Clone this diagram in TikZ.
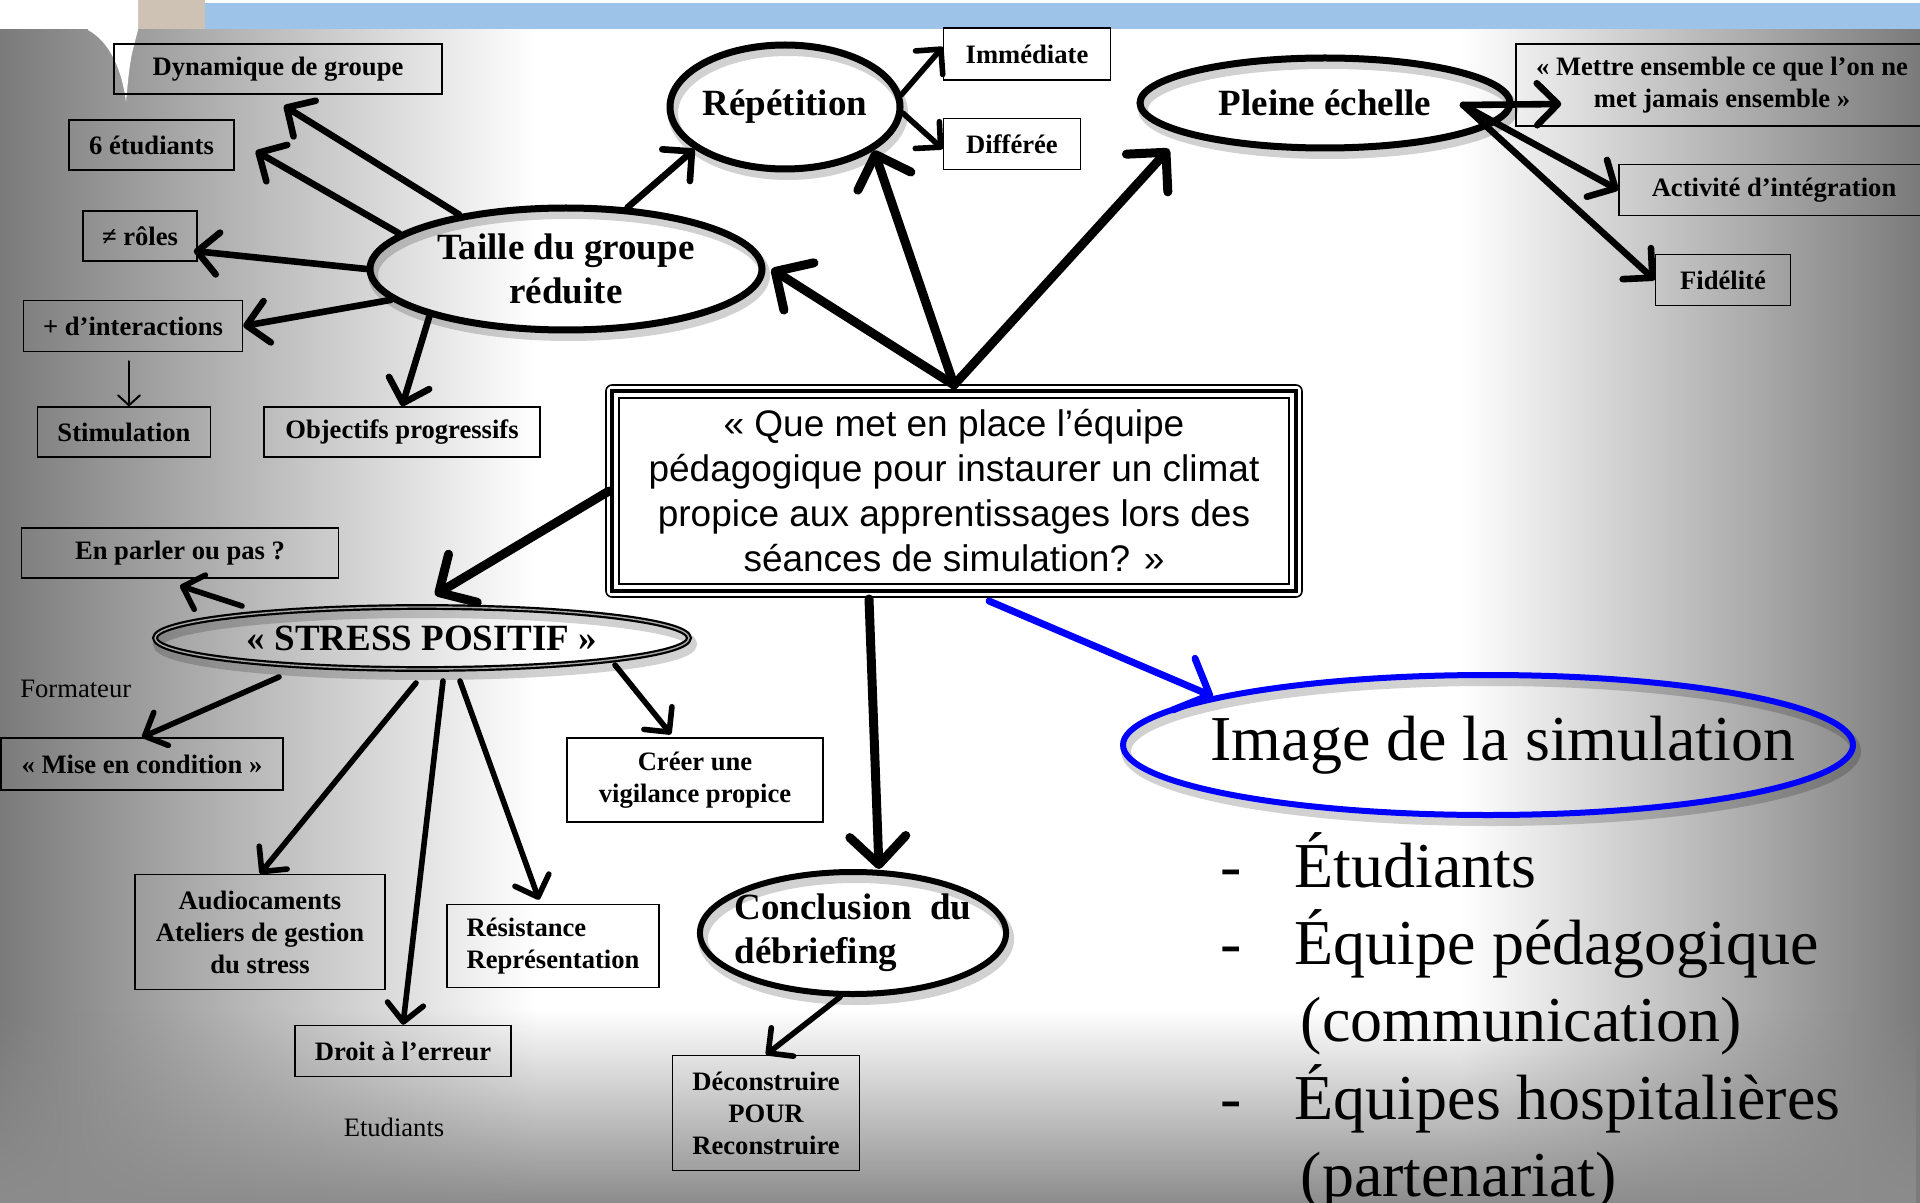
\documentclass[tikz,border=0pt]{standalone}
\usepackage{fontspec}
\setmainfont{Liberation Serif}
\newfontfamily\qfont{Liberation Sans}
\usepackage{tikz}
\usetikzlibrary{arrows.meta, calc, shapes.geometric, fadings, shadows}

\definecolor{headblue}{RGB}{157,196,232}
\definecolor{curlbeige}{RGB}{206,194,180}
\pgfdeclarehorizontalshading{slide}{100bp}{color(0bp)=(black!52); color(25bp)=(black!52); color(39bp)=(white); color(63bp)=(white); color(75bp)=(black!52); color(100bp)=(black!52)}
\tikzfading[name=fade bottom, top color=transparent!100, bottom color=transparent!0]

\tikzset{
	box/.style={draw, line width=0.75pt, inner sep=0pt, align=center, font=\bfseries\fontsize{13.3}{16}\selectfont},
	bubble/.style={draw, ellipse, line width=3.5pt, inner sep=0pt, align=center, font=\bfseries\fontsize{18.5}{22}\selectfont,
		drop shadow={fill=none, draw=black, line width=5pt, opacity=0.18, shadow xshift=1.5pt, shadow yshift=-3pt}},
	arrbig/.style={line width=4.5pt, -{Straight Barb[round, length=14pt, width=28pt]}},
	arrmid/.style={line width=3.3pt, -{Straight Barb[round, length=10.5pt, width=21pt]}},
	arrsmall/.style={line width=2.8pt, -{Straight Barb[round, length=9pt, width=18pt]}},
	arrthin/.style={line width=1pt, -{Straight Barb[round, length=5pt, width=11pt]}},
	freetext/.style={inner sep=0pt, font=\fontsize{13.3}{16}\selectfont}
}

\begin{document}
\begin{tikzpicture}[x=0.5pt, y=-0.5pt, line cap=round]
	\useasboundingbox (0,0) rectangle (1920,1203);

	% slide background
	\fill[white] (0,0) rectangle (1920,30);
	\fill[curlbeige] (122,0) rectangle (205,31);
	\fill[headblue] (205,3) rectangle (1920,31);
	\shade[shading=slide] (0,30) rectangle (1920,1203);
	\fill[black!45, path fading=fade bottom] (0,1010) rectangle (1920,1203);
	\fill[white] (88,0) -- (138,0) -- (138,30) .. controls (130,60) .. (126,102) .. controls (122,70) and (110,42) .. (88,30) -- cycle;

	% question
	\node[draw, fill=white, line width=1pt, inner sep=0pt, align=center, minimum width=335pt, minimum height=93pt,
		font=\qfont\fontsize{18.5}{22.5}\selectfont] (q) at (954,491)
		{« Que met en place l’équipe\\pédagogique pour instaurer un climat\\propice aux apprentissages lors des\\séances de simulation? »};
	\draw[line width=2pt] ([shift={(-3pt,3pt)}]q.north west) rectangle ([shift={(3pt,-3pt)}]q.south east);
	\draw[line width=0.8pt, rounded corners=3pt] ([shift={(-6pt,6pt)}]q.north west) rectangle ([shift={(6pt,-6pt)}]q.south east);
	\coordinate (qtop) at ([yshift=6pt]q.north);

	% ellipses
	\node[bubble, minimum width=196pt, minimum height=61pt] (taille) at (566,269) {Taille du groupe\\réduite};
	\node[bubble, inner sep=-2pt, minimum width=115pt, minimum height=62pt] (rep) at (785,107) {Répétition};
	\node[bubble, minimum width=185pt, minimum height=45pt] (pleine) at (1325,103) {Pleine échelle};
	\node[bubble, line width=1.1pt, double=black!35, double distance=0.7pt, minimum width=267pt, minimum height=31pt] (stress) at (422,638) {«~STRESS POSITIF~»};
	\node[bubble, line width=3pt, inner xsep=-5pt, align=left, minimum width=153pt, minimum height=61pt] (concl) at (853,933) {Conclusion \ du\\débriefing};
	\node[bubble, draw=blue, line width=3pt, inner xsep=-26pt, font=\fontsize{32}{38}\selectfont, minimum width=365pt, minimum height=70pt] (img) at (1488,745) {\hspace*{15pt}Image de la simulation};

	% boxes
	\node[box, minimum width=164pt, minimum height=25pt] (dyn) at (278,69) {Dynamique de groupe};
	\node[box, minimum width=82.5pt, minimum height=25pt] (six) at (151.5,145) {6 étudiants};
	\node[box, minimum width=57pt, minimum height=25pt] (roles) at (140,236) {≠ rôles};
	\node[box, minimum width=109.5pt, minimum height=25.5pt] (inter) at (133,326) {+ d’interactions};
	\node[box, minimum width=86.5pt, minimum height=25pt] (stim) at (124,432) {Stimulation};
	\node[box, minimum width=138pt, minimum height=25pt] (obj) at (402,432) {Objectifs progressifs};
	\node[box, minimum width=83.5pt, minimum height=26pt] (imm) at (1027,54) {Immédiate};
	\node[box, minimum width=68.5pt, minimum height=25.5pt] (diff) at (1012,144) {Différée};
	\node[box, minimum width=206pt, minimum height=41pt] (mettre) at (1722,85) {«~Mettre ensemble ce que l’on ne\\met jamais ensemble~»};
	\node[box, minimum width=155pt, minimum height=25.5pt] (activ) at (1774,190) {Activité d’intégration};
	\node[box, minimum width=67.5pt, minimum height=25.5pt] (fid) at (1723,280) {Fidélité};
	\node[box, minimum width=158.5pt, minimum height=25pt] (parler) at (180,553) {En parler ou pas ?};
	\node[box, minimum width=141pt, minimum height=26pt] (mise) at (142,764) {«~Mise en condition~»};
	\node[box, minimum width=128pt, minimum height=42pt] (creer) at (695,780) {Créer une\\vigilance propice};
	\node[box, minimum width=125pt, minimum height=57.5pt] (audio) at (260,932) {Audiocaments\\Ateliers de gestion\\du stress};
	\node[box, align=left, minimum width=106pt, minimum height=41.5pt] (resist) at (553,946) {Résistance\\Représentation};
	\node[box, minimum width=108pt, minimum height=25.5pt] (droit) at (403,1051) {Droit à l’erreur};
	\node[box, minimum width=93.5pt, minimum height=57.5pt] (decon) at (766,1113) {Déconstruire\\POUR\\Reconstruire};

	\node[freetext, anchor=west] (form) at (20,689) {Formateur};
	\node[freetext] (etud) at (394,1127) {Etudiants};
	\node[inner sep=0pt, anchor=base west, font=\fontsize{32}{38.3}\selectfont] (list) at (1220,887)
		{\begin{tabular}[t]{@{}l@{\hspace{26.5pt}}l@{}}
			- & Étudiants\\
			- & Équipe pédagogique\\
			  & \hspace{3pt}(communication)\\
			- & Équipes hospitalières\\
			  & \hspace{3pt}(partenariat)
		\end{tabular}};

	% Taille du groupe
	\draw[arrmid] (taille.153) -- ([xshift=3pt,yshift=-5.5pt]dyn.south);
	\draw[arrmid] (taille.168) -- ([xshift=10.5pt,yshift=-3pt]six.east);
	\draw[arrmid] (taille.180) -- ([xshift=-2pt,yshift=-7.5pt]roles.east);
	\draw[arrmid] (taille.190) -- (inter.east);
	\draw[arrmid] (taille.199) -- (obj.north);
	\draw[arrmid] (taille.45) -- (rep.205);
	\coordinate (i1) at ([xshift=-2pt,yshift=-4.5pt]inter.south);
	\draw[arrthin] (i1) -- (i1 |- stim.north);

	% from the question
	\draw[arrbig] (qtop) -- ([xshift=3pt]taille.east);
	\draw[arrbig] (qtop) -- (rep.-26);
	\draw[arrbig] (qtop) -- ($(pleine)+(-156,46)$);
	\draw[arrbig] ([xshift=-4.5pt]q.west) -- ([xshift=6.5pt,yshift=5.5pt]stress.north);
	\draw[arrbig] ($(q.south)+(-85,14)$) -- ([xshift=13pt]concl.north);
	\draw[arrbig, blue, line width=3.5pt] ($(q.south)+(35,16)$) -- (img.170);

	% Repetition, pleine echelle
	\draw[arrsmall] (rep.6) -- ([yshift=3.5pt]imm.west);
	\draw[arrsmall] (rep.-3) -- ([yshift=-2.5pt]diff.west);
	\coordinate (hub) at ($(pleine)+(138,2)$);
	\draw[arrmid] (hub) -- ($(mettre.west)+(46,19)$);
	\draw[arrmid] (hub) -- (activ.west);
	\draw[arrmid] (hub) -- (fid.west);

	% stress positif
	\draw[arrsmall] ($(stress)+(-180,-32)$) -- ([yshift=-3.5pt]parler.south);
	\draw[arrsmall] ($(stress)+(-143,39)$) -- (mise.north);
	\draw[arrsmall] ($(stress)+(-6,45)$) -- (audio.north);
	\draw[arrsmall] ($(stress)+(21,43)$) -- (droit.north);
	\draw[arrsmall] ($(stress)+(38,43)$) -- ([xshift=-7pt,yshift=2pt]resist.north);
	\draw[arrsmall] ($(stress)+(193,27)$) -- ([xshift=-12pt,yshift=1.5pt]creer.north);
	\draw[arrsmall] ([xshift=-6.5pt]concl.south) -- (decon.north);
\end{tikzpicture}
\end{document}
